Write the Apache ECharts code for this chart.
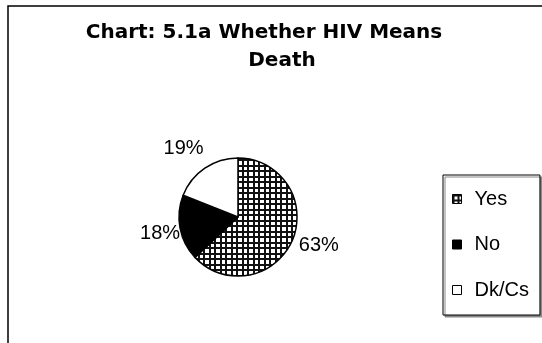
<!DOCTYPE html>
<html>
<head>
<meta charset="utf-8">
<script src="https://cdn.jsdelivr.net/npm/echarts@6/dist/echarts.min.js"></script>
<style>
  html, body { margin: 0; padding: 0; background: #fff; }
  #chart { width: 542px; height: 343px; }
</style>
</head>
<body>
<div id="chart"></div>
<script>
// Answers to "Does HIV mean death?" (percent of respondents)
const categories = ['Yes', 'No', 'Dk/Cs'];
const shares = [63, 18, 19];
const titleLines = ['Chart: 5.1a Whether HIV Means', 'Death'];

// Label nudges per slice (pixels), kept apart from the data
const labelOffsets = [[-2, 3], [9, 5], [6, -16]];

// Cross-hatched tile for the "Yes" slice
function gridTile() {
  const c = document.createElement('canvas');
  c.width = 11; c.height = 11;
  const g = c.getContext('2d');
  g.fillStyle = '#fff';
  g.fillRect(0, 0, 11, 11);
  g.fillStyle = '#111';
  g.fillRect(0, 0, 2, 11);
  g.fillRect(5, 0, 2, 11);
  g.fillRect(0, 0, 11, 2);
  g.fillRect(0, 5, 11, 2);
  return c;
}

const fills = [
  { image: gridTile(), repeat: 'repeat' },
  '#000',
  '#fff'
];

const chart = echarts.init(document.getElementById('chart'), null, { renderer: 'canvas' });

const titleStyle = {
  fontFamily: 'DejaVu Sans',
  fontWeight: 'bold',
  fontSize: 20,
  color: '#000'
};

chart.setOption({
  backgroundColor: '#fff',
  animation: false,
  title: [
    { text: titleLines[0], left: 264, top: 23, textAlign: 'center', padding: 0, textStyle: titleStyle },
    { text: titleLines[1], left: 282, top: 51, textAlign: 'center', padding: 0, textStyle: titleStyle }
  ],
  graphic: [
    {
      type: 'rect',
      shape: { x: 8, y: 6, width: 600, height: 400 },
      style: { fill: 'none', stroke: '#000', lineWidth: 1.5 },
      silent: true
    }
  ],
  legend: {
    orient: 'vertical',
    left: 443,
    top: 175,
    padding: [14, 11, 15, 9],
    itemWidth: 9,
    itemHeight: 9,
    itemGap: 25.5,
    icon: 'rect',
    backgroundColor: '#fff',
    borderColor: '#000',
    borderWidth: 1,
    shadowColor: '#888',
    shadowOffsetX: 2,
    shadowOffsetY: 2,
    shadowBlur: 0,
    itemStyle: { borderColor: '#000', borderWidth: 1 },
    textStyle: {
      fontFamily: 'Liberation Sans',
      fontSize: 20,
      lineHeight: 20,
      color: '#000',
      padding: [0, 0, 0, 8]
    },
    data: categories
  },
  series: [
    {
      type: 'pie',
      center: [238, 217],
      radius: 59,
      startAngle: 90,
      clockwise: true,
      avoidLabelOverlap: false,
      itemStyle: { borderColor: '#000', borderWidth: 1.5 },
      emphasis: { disabled: true },
      label: {
        show: true,
        position: 'outside',
        formatter: '{d}%',
        fontFamily: 'Liberation Sans',
        fontSize: 20,
        color: '#000',
        distanceToLabelLine: 5
      },
      labelLine: { show: false, length: 4, length2: 0 },
      data: categories.map((name, i) => ({
        name,
        value: shares[i],
        itemStyle: { color: fills[i] },
        label: { offset: labelOffsets[i] }
      }))
    }
  ]
});
</script>
</body>
</html>
